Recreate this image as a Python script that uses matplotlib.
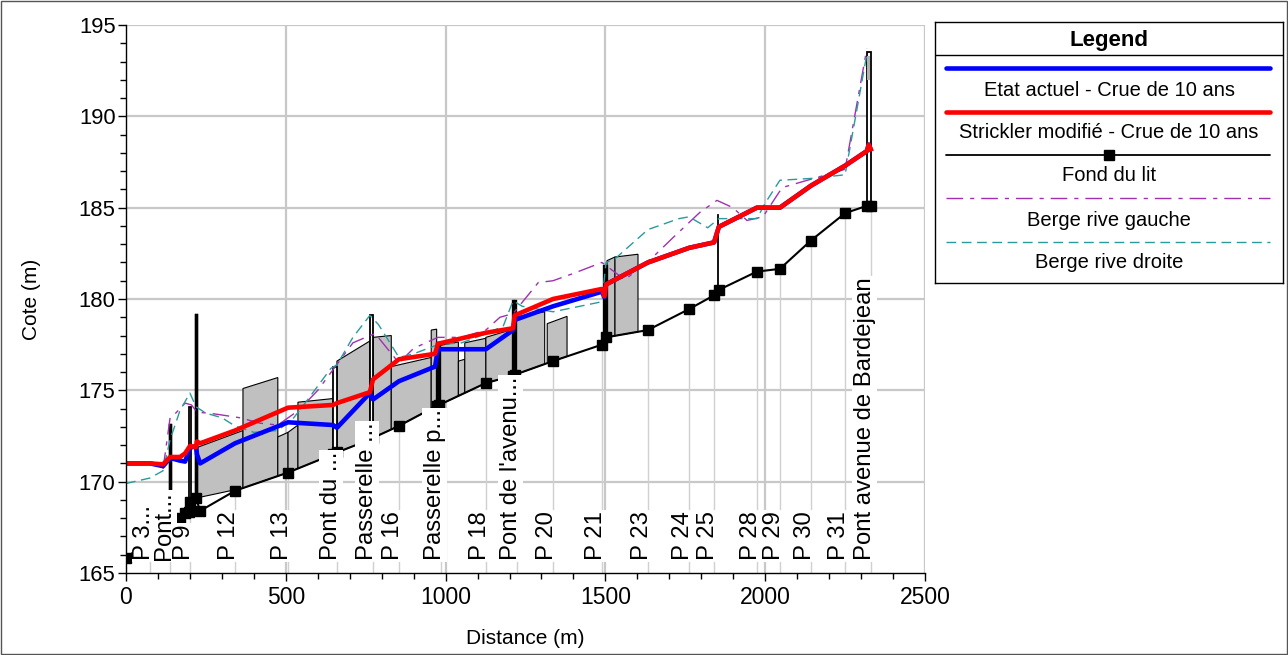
import numpy as np
import matplotlib
matplotlib.use("Agg")
import matplotlib.pyplot as plt
from matplotlib.patches import Polygon, Rectangle
from matplotlib.lines import Line2D
from matplotlib.ticker import MultipleLocator
from matplotlib.transforms import offset_copy

plt.rcParams['font.family'] = ['Liberation Sans', 'DejaVu Sans']

# ---- Fond du lit (bed profile) ----
bed_d = [0, 75, 138, 169, 185, 197, 200, 219, 232, 341, 507, 648, 660, 763, 773,
         854, 972, 980, 1126, 1211, 1216, 1336, 1489, 1502, 1633, 1762, 1840, 1855,
         1974, 2046, 2143, 2250, 2318, 2330]
bed_z = [165.8, 166.9, 167.7, 168.0, 168.3, 168.35, 168.9, 169.1, 168.4, 169.5, 170.5,
         171.5, 171.6, 172.3, 172.4, 173.05, 174.15, 174.2, 175.4, 175.8, 175.85, 176.6,
         177.5, 177.9, 178.3, 179.45, 180.2, 180.5, 181.5, 181.65, 183.2, 184.7, 185.1, 185.1]

# ---- Etat actuel - Crue de 10 ans ----
cur_d = [0, 75, 116, 138, 169, 185, 200, 219, 222, 232, 341, 507, 648, 660, 763, 773,
         854, 967, 976, 1126, 1211, 1216, 1336, 1489, 1497, 1502, 1633, 1762, 1840, 1855,
         1974, 2046, 2143, 2250, 2318, 2324, 2330]
cur_z = [171.0, 171.0, 170.85, 171.3, 171.15, 171.1, 171.85, 171.95, 171.5, 171.0, 172.1,
         173.25, 173.1, 172.95, 174.85, 174.5, 175.5, 176.3, 177.25, 177.25, 178.3, 178.85,
         179.6, 180.4, 180.1, 180.8, 182.0, 182.8, 183.1, 183.95, 185.0, 185.0, 186.2,
         187.3, 188.1, 188.45, 188.2]

# ---- Strickler modifie - Crue de 10 ans ----
mod_d = [0, 75, 116, 138, 169, 185, 200, 219, 222, 232, 341, 507, 648, 660, 763, 773,
         854, 967, 976, 1126, 1211, 1216, 1336, 1489, 1497, 1502, 1633, 1762, 1840, 1855,
         1974, 2046, 2143, 2250, 2318, 2324, 2330]
mod_z = [171.0, 171.0, 170.95, 171.35, 171.35, 171.55, 171.95, 171.9, 172.2, 172.1, 172.8,
         174.05, 174.2, 174.3, 174.9, 175.6, 176.7, 177.0, 177.55, 178.15, 178.4, 179.1,
         180.0, 180.55, 180.15, 180.8, 182.0, 182.8, 183.1, 183.95, 185.0, 185.0, 186.2,
         187.3, 188.1, 188.45, 188.2]

# ---- Berge rive gauche ----
lb_d = [116, 138, 150, 185, 205, 222, 260, 300, 356, 420, 475, 540, 600, 710, 763, 780,
        854, 900, 976, 1050, 1126, 1170, 1211, 1290, 1336, 1400, 1489, 1561, 1649, 1711,
        1796, 1849, 1899, 1943, 1993, 2053, 2250, 2318]
lb_z = [170.7, 173.5, 173.65, 174.3, 174.2, 173.8, 173.75, 173.65, 173.5, 173.2, 173.1,
        173.9, 175.0, 177.6, 178.0, 178.1, 176.5, 177.3, 177.9, 177.9, 178.3, 179.0, 179.2,
        180.9, 181.0, 181.4, 182.0, 181.05, 182.3, 183.35, 184.75, 185.4, 185.0, 184.3,
        184.5, 186.1, 187.1, 193.7]

# ---- Berge rive droite ----
rb_d = [0, 75, 116, 138, 169, 200, 219, 250, 300, 341, 400, 475, 525, 569, 641, 660, 710,
        763, 790, 840, 854, 900, 976, 1050, 1126, 1180, 1211, 1240, 1336, 1489, 1502, 1530,
        1633, 1730, 1762, 1820, 1855, 1974, 2000, 2046, 2143, 2250, 2318]
rb_z = [169.9, 170.2, 170.6, 172.3, 173.9, 174.85, 174.1, 173.75, 173.5, 173.05, 172.7,
        172.8, 173.5, 174.5, 176.2, 176.4, 177.9, 179.1, 178.6, 177.2, 176.8, 177.0, 177.5,
        177.6, 178.1, 178.5, 179.9, 179.6, 179.3, 179.85, 182.0, 182.2, 183.8, 184.4, 184.5,
        183.9, 184.4, 184.4, 185.25, 186.5, 186.6, 186.8, 193.4]

# ---- grey blocks between bed and block top ----
blk_d0 = [219, 366, 475, 507, 538, 660, 773, 830, 955, 980, 1040, 1060, 1126, 1216, 1318, 1505, 1530]
blk_d1 = [366, 475, 507, 538, 648, 763, 830, 955, 972, 1040, 1060, 1126, 1211, 1310, 1380, 1530, 1602]
blk_t0 = [171.85, 175.1, 172.45, 172.7, 174.35, 176.6, 177.9, 176.3, 178.3, 177.45, 176.6,
          177.6, 177.9, 179.0, 178.65, 182.1, 182.3]
blk_t1 = [172.8, 175.7, 172.7, 173.1, 174.55, 177.7, 178.0, 176.8, 178.35, 177.65, 176.7,
          177.85, 178.35, 179.3, 179.05, 182.3, 182.45]

# ---- bridges / structures ----
br_d0 = [138, 197, 219, 648, 763, 972, 1211, 1497, 1852, 2318]
br_d1 = [138, 203, 219, 660, 773, 980, 1216, 1502, 1852, 2330]
br_top = [173.1, 174.1, 179.1, 176.3, 179.1, 177.6, 179.9, 181.8, 184.6, 193.5]
br_kind = ['thick', 'pair', 'thick', 'pair', 'pair', 'thick', 'thick', 'thick', 'thin', 'pair']

# ---- station labels ----
lab_d = [75, 138, 200, 341, 507, 660, 773, 854, 985, 1126, 1222, 1336, 1489, 1633, 1762,
         1840, 1974, 2046, 2143, 2250, 2330]
lab_txt = ['P 3...', 'Pont...', 'P 9', 'P 12', 'P 13', 'Pont du ...', 'Passerelle ...',
           'P 16', 'Passerelle p...', 'P 18', "Pont de l'avenu...", 'P 20', 'P 21', 'P 23',
           'P 24', 'P 25', 'P 28', 'P 29', 'P 30', 'P 31', 'Pont avenue de Bardejean']

C_BLUE = '#0000ff'
C_RED = '#ff0000'
C_LB = '#a030b0'
C_RB = '#2a9a9a'
LB_DASH = (0, (12, 5, 3, 5))
RB_DASH = (0, (7, 4))

W, H = 1288, 655
fig = plt.figure(figsize=(W / 100, H / 100), dpi=100)
ax = fig.add_axes([126 / W, 1 - 573 / H, 799 / W, 548 / H])
ax.set_xlim(0, 2500)
ax.set_ylim(165, 195)

bed_at = lambda d: np.interp(d, bed_d, bed_z)

# grid
for gx in range(500, 2501, 500):
    ax.axvline(gx, color='#c8c8c8', lw=1.6, zorder=0.5)
for gy in range(170, 196, 5):
    ax.axhline(gy, color='#c8c8c8', lw=1.6, zorder=0.5)

# station lines from axis to bed
for d in lab_d:
    ax.plot([d, d], [165, bed_at(d)], color='#d0d0d0', lw=1.0, zorder=1)

# grey blocks
for d0, d1, t0, t1 in zip(blk_d0, blk_d1, blk_t0, blk_t1):
    poly = Polygon([(d0, bed_at(d0)), (d0, t0), (d1, t1), (d1, bed_at(d1))],
                   closed=True, facecolor='#c0c0c0', edgecolor='black', lw=0.8, zorder=2)
    ax.add_patch(poly)

# bridges
for d0, d1, top, kind in zip(br_d0, br_d1, br_top, br_kind):
    if kind == 'thick':
        if d1 > d0:
            ax.add_patch(Rectangle((d0, bed_at(d0)), d1 - d0, top - bed_at(d0),
                                   facecolor='black', edgecolor='black', lw=1.2, zorder=3))
        ax.plot([d0, d0], [bed_at(d0), top], color='black', lw=2.4, zorder=3)
        ax.plot([d1, d1], [bed_at(d1), top], color='black', lw=2.4, zorder=3)
    elif kind == 'thin':
        ax.plot([d0, d0], [bed_at(d0), top], color='black', lw=1.3, zorder=3)
    else:
        ax.add_patch(Rectangle((d0, bed_at(d0)), d1 - d0, top - bed_at(d0),
                               facecolor='white', edgecolor='black', lw=1.3, zorder=3))
ax.add_patch(Rectangle((2320, 192.0), 8, 1.3, facecolor='#b0b0b0', edgecolor='none', zorder=3.1))

# banks
ax.plot(lb_d, lb_z, color=C_LB, lw=1.0, linestyle=LB_DASH, zorder=4)
ax.plot(rb_d, rb_z, color=C_RB, lw=1.0, linestyle=RB_DASH, zorder=4)

# bed
ax.plot(bed_d, bed_z, color='black', lw=1.5, marker='s', markersize=7, zorder=5)

# water surfaces
ax.plot(cur_d, cur_z, color=C_BLUE, lw=3.3, solid_joinstyle='round', zorder=6)
ax.plot(mod_d, mod_z, color=C_RED, lw=3.3, solid_joinstyle='round', zorder=7)

# station labels
lab_tr = offset_copy(ax.transData, fig=fig, x=5, y=0, units='dots')
for d, t in zip(lab_d, lab_txt):
    ax.text(d, 165.7, t, rotation=90, ha='right', va='bottom', fontsize=17.2,
            transform=lab_tr, zorder=9,
            bbox=dict(facecolor='white', edgecolor='none', pad=1.0))

# axes styling
for s in ['top', 'right']:
    ax.spines[s].set_visible(False)
for s in ['left', 'bottom']:
    ax.spines[s].set_linewidth(1.0)
    ax.spines[s].set_zorder(10)
ax.xaxis.set_major_locator(MultipleLocator(500))
ax.xaxis.set_minor_locator(MultipleLocator(100))
ax.yaxis.set_major_locator(MultipleLocator(5))
ax.yaxis.set_minor_locator(MultipleLocator(1))
ax.tick_params(which='major', length=6, width=1, direction='out')
ax.tick_params(which='minor', length=4, width=1, direction='out')
ax.tick_params(axis='x', which='major', labelsize=16.5)
ax.tick_params(axis='y', which='major', labelsize=15.8, pad=1.5)
ax.set_xlabel('Distance (m)', fontsize=15, labelpad=14)
ax.set_ylabel('Cote (m)', fontsize=15, labelpad=27)

# legend panel
lg = fig.add_axes([935 / W, 1 - 283 / H, 348 / W, 261 / H])
lg.set_xlim(0, 1)
lg.set_ylim(0, 1)
lg.set_xticks([])
lg.set_yticks([])
for s in lg.spines.values():
    s.set_linewidth(1.0)
lg.axhline(0.874, color='black', lw=1.0)
lg.text(0.5, 0.931, 'Legend', ha='center', va='center', fontsize=16, fontweight='bold')
entries = [
    ('Etat actuel - Crue de 10 ans', dict(color=C_BLUE, lw=3.3)),
    ('Strickler modifié - Crue de 10 ans', dict(color=C_RED, lw=3.3)),
    ('Fond du lit', dict(color='black', lw=1.3)),
    ('Berge rive gauche', dict(color=C_LB, lw=1.0, linestyle=LB_DASH)),
    ('Berge rive droite', dict(color=C_RB, lw=1.0, linestyle=RB_DASH)),
]
line_y = [0.824, 0.655, 0.490, 0.326, 0.157]
text_y = [0.739, 0.575, 0.410, 0.241, 0.080]
for (name, style), ly, ty in zip(entries, line_y, text_y):
    lg.add_line(Line2D([0.032, 0.963], [ly, ly], solid_capstyle='round', **style))
    lg.text(0.5, ty, name, ha='center', va='center', fontsize=14.5)
lg.plot([0.5], [line_y[2]], marker='s', color='black', markersize=6.5)

# outer frame
fig.add_artist(Rectangle((0.0008, 0.0015), 0.9984, 0.997, transform=fig.transFigure,
                         fill=False, edgecolor='#555555', lw=1.0))

fig.savefig('out.png', dpi=100)
